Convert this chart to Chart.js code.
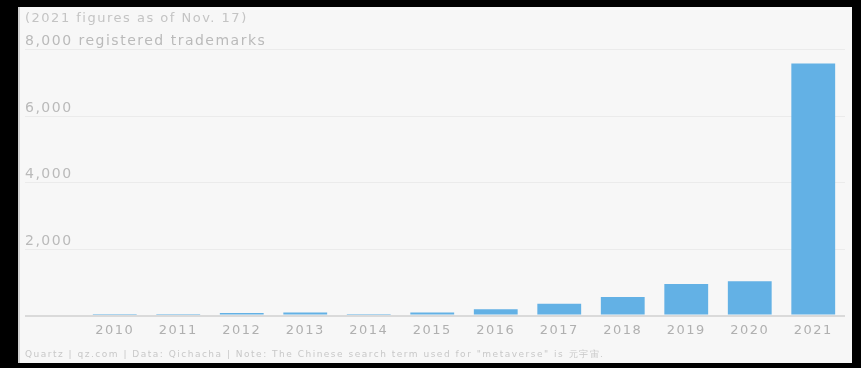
<!DOCTYPE html>
<html>
<head>
<meta charset="utf-8">
<script src="https://cdn.jsdelivr.net/npm/chart.js@4"></script>
<style>
  html, body { margin: 0; padding: 0; background: #000; width: 861px; height: 368px; overflow: hidden; }
  #panel { position: absolute; left: 18px; top: 7px; width: 834px; height: 356px; background: #f7f7f7; border-left: 2px solid #d0d0d0; box-sizing: border-box; }
</style>
</head>
<body>
<div id="panel"><canvas id="bar"></canvas></div>
<script>
const years = ["2010","2011","2012","2013","2014","2015","2016","2017","2018","2019","2020","2021"];
const trademarks = [45,45,75,95,45,90,190,360,560,950,1030,7580];
const yTicks = [0,2000,4000,6000,8000];
const note = "(2021 figures as of Nov. 17)";
const source = "Quartz | qz.com | Data: Qichacha | Note: The Chinese search term used for \"metaverse\" is 元宇宙.";

const font = "'DejaVu Sans', sans-serif";

// slightly wider letters, like the original typeface
const spacing = {
  id: "spacing",
  beforeDraw(chart) { chart.ctx.letterSpacing = "1.5px"; }
};

let chart = new Chart(document.getElementById("bar"), {
  type: "bar",
  data: {
    labels: years,
    datasets: [{
      data: trademarks,
      backgroundColor: "#63b1e5",
      barPercentage: 0.69,
      categoryPercentage: 1
    }]
  },
  options: {
    responsive: true,
    maintainAspectRatio: false,
    animation: false,
    layout: { padding: { left: 5, right: 7, top: 4, bottom: 3 } },
    plugins: {
      legend: { display: false },
      tooltip: { enabled: false },
      title: {
        display: true,
        text: note,
        align: "start",
        color: "#c4c4c4",
        font: { family: font, size: 13, weight: "normal" },
        padding: { top: 0, bottom: 23 }
      },
      subtitle: {
        display: true,
        position: "bottom",
        text: source,
        align: "start",
        color: "#c8c8c8",
        font: { family: font, size: 9, weight: "normal" },
        padding: { top: 4, bottom: 0 }
      }
    },
    scales: {
      x: {
        grid: { display: false, drawTicks: false },
        border: { display: false },
        ticks: {
          color: "#b0b0b0",
          padding: 7,
          maxRotation: 0,
          autoSkip: false,
          font: { family: font, size: 13 }
        }
      },
      y: {
        min: 0,
        max: 8000,
        afterBuildTicks(scale) { scale.ticks = yTicks.map(v => ({ value: v })); },
        afterFit(scale) { scale.width = 58; },
        border: { display: false },
        grid: {
          color: c => c.tick && c.tick.value === 0 ? "#dadada" : "#ebebeb",
          lineWidth: c => c.tick && c.tick.value === 0 ? 2 : 1,
          drawTicks: true,
          tickLength: 58
        },
        ticks: {
          mirror: true,
          padding: -58,
          labelOffset: -8,
          color: "#bababa",
          font: { family: font, size: 14 },
          callback: v => v === 0 ? "" : v === 8000 ? "8,000 registered trademarks" : v.toLocaleString("en-US")
        }
      }
    }
  },
  plugins: [spacing]
});
</script>
</body>
</html>
